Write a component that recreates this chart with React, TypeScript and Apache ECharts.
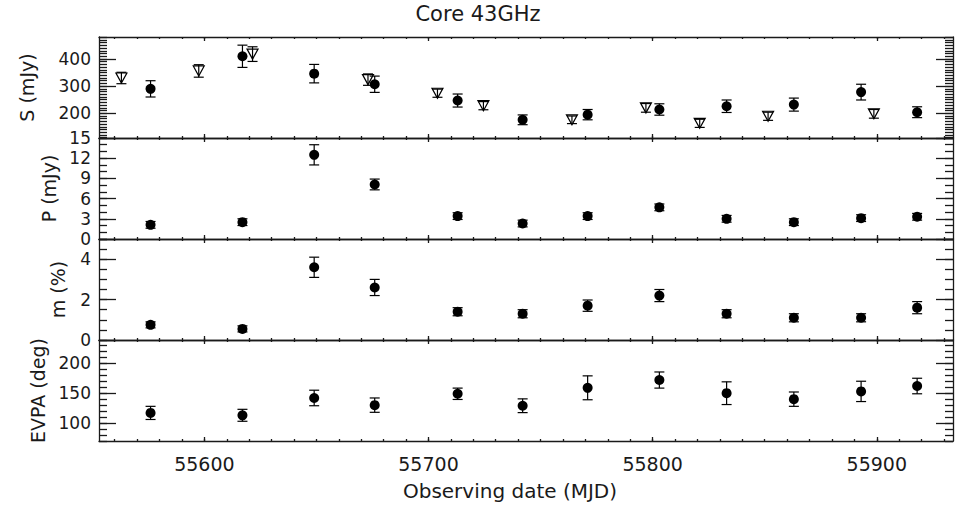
import { useEffect, useRef } from 'react';
import * as echarts from 'echarts';

// ---- data ----
const POL_MJD = [55576, 55617, 55649, 55676, 55713, 55742, 55771, 55803, 55833, 55863, 55893, 55918];
const POL_S = [290, 410, 346, 307, 247, 176, 195, 214, 226, 232, 278, 204];
const POL_S_ERR = [30, 41, 34, 30, 24, 18, 19, 21, 23, 24, 29, 20];
const TOT_MJD = [55563, 55597.5, 55621.5, 55673, 55704, 55724.5, 55764, 55797, 55821, 55851.5, 55898.7];
const TOT_S = [330, 356, 418, 324, 274, 228, 176, 220, 163, 189, 198];
const TOT_S_ERR = [21, 23, 27, 21, 15, 15, 14, 16, 15, 15, 16];
const POL_P = [2.1, 2.5, 12.5, 8.1, 3.4, 2.3, 3.4, 4.7, 3.0, 2.5, 3.1, 3.3];
const POL_P_ERR = [0.5, 0.5, 1.5, 0.8, 0.5, 0.5, 0.5, 0.5, 0.5, 0.5, 0.5, 0.5];
const POL_M = [0.75, 0.55, 3.6, 2.6, 1.4, 1.3, 1.7, 2.2, 1.3, 1.1, 1.1, 1.6];
const POL_M_ERR = [0.15, 0.15, 0.5, 0.4, 0.2, 0.2, 0.28, 0.3, 0.2, 0.2, 0.2, 0.3];
const POL_EVPA = [117, 113, 142, 130, 149, 129, 159, 172, 150, 140, 153, 162];
const POL_EVPA_ERR = [11, 10, 13, 12, 9.5, 11.5, 20, 13.5, 19, 12, 17, 13];

// ---- tick labels ----
const X_TICKS = [55600, 55700, 55800, 55900];
const S_TICKS = [200, 300, 400];
const P_TICKS = [0, 3, 6, 9, 12, 15];
const M_TICKS = [0, 2, 4];
const EVPA_TICKS = [100, 150, 200];

const TITLE = 'Core 43GHz';
const X_NAME = 'Observing date (MJD)';
const Y_NAMES = ['S (mJy)', 'P (mJy)', 'm (%)', 'EVPA (deg)'];

const FONT = 'DejaVu Sans';
const INK = '#1a1a1a';

function minorTicks(min: number, max: number, step: number): number[] {
  const out: number[] = [];
  const start = Math.ceil(min / step - 1e-9);
  const end = Math.floor(max / step + 1e-9);
  for (let i = start; i <= end; i++) out.push(Math.round(i * step * 1000) / 1000);
  return out;
}

const X_MIN = 55553;
const X_MAX = 55934;

const PANELS = [
  { min: 109, max: 481, ticks: S_TICKS, step: 10, gap: 63 },
  { min: 0, max: 15, ticks: P_TICKS, step: 1, gap: 37 },
  { min: 0, max: 5, ticks: M_TICKS, step: 0.5, gap: 32 },
  { min: 70, max: 239, ticks: EVPA_TICKS, step: 10, gap: 48 },
];
const TOPS = [37, 138, 239, 340];
const PANEL_H = 101;

const errData = (xs: number[], ys: number[], es: number[]) =>
  xs.map((x, i) => [x, ys[i], ys[i] - es[i], ys[i] + es[i]]);
const ptData = (xs: number[], ys: number[]) => xs.map((x, i) => [x, ys[i]]);

const renderErr = (_params: any, api: any) => {
  const x = api.value(0);
  const lo = api.coord([x, api.value(2)]);
  const hi = api.coord([x, api.value(3)]);
  const w = 5;
  const style = { stroke: '#000', lineWidth: 1.2 };
  return {
    type: 'group',
    children: [
      { type: 'line', shape: { x1: lo[0], y1: lo[1], x2: hi[0], y2: hi[1] }, style },
      { type: 'line', shape: { x1: lo[0] - w, y1: lo[1], x2: lo[0] + w, y2: lo[1] }, style },
      { type: 'line', shape: { x1: hi[0] - w, y1: hi[1], x2: hi[0] + w, y2: hi[1] }, style },
    ],
  };
};

function buildOption() {
  const lineStyle = { color: INK, width: 1.3 };
  const grid = TOPS.map((t) => ({ left: 99, right: 20, top: t, height: PANEL_H }));
  const xMinor = minorTicks(X_MIN, X_MAX, 10);

  const xAxis: any[] = [];
  const yAxis: any[] = [];
  PANELS.forEach((p, g) => {
    const baseX = {
      type: 'value', gridIndex: g, min: X_MIN, max: X_MAX,
      splitLine: { show: false },
      axisLabel: { show: false },
      axisLine: { show: false, onZero: false, lineStyle },
    };
    const last = g === PANELS.length - 1;
    xAxis.push({
      ...baseX, position: 'bottom',
      axisLine: { show: true, onZero: false, lineStyle },
      axisTick: { show: true, inside: true, length: 4, customValues: X_TICKS, lineStyle },
      axisLabel: last
        ? { show: true, customValues: X_TICKS, interval: 0, formatter: (v: number) => String(v), fontFamily: FONT, fontSize: 19, color: INK, margin: 13 }
        : { show: false },
      name: last ? X_NAME : '',
      nameLocation: 'middle',
      nameGap: 40,
      nameTextStyle: { fontFamily: FONT, fontSize: 20, color: INK, padding: [0, 32, 0, 0] },
    });
    xAxis.push({ ...baseX, position: 'bottom', axisTick: { show: true, inside: true, length: 2, customValues: xMinor, lineStyle } });
    xAxis.push({
      ...baseX, position: 'top',
      axisLine: { show: true, onZero: false, lineStyle },
      axisTick: { show: true, inside: true, length: 4, customValues: X_TICKS, lineStyle },
    });
    xAxis.push({ ...baseX, position: 'top', axisTick: { show: true, inside: true, length: 2, customValues: xMinor, lineStyle } });

    const yMinor = minorTicks(p.min, p.max, p.step);
    const baseY = {
      type: 'value', gridIndex: g, min: p.min, max: p.max,
      splitLine: { show: false },
      axisLabel: { show: false },
      axisLine: { show: false, onZero: false, lineStyle },
    };
    // labels are split over two overlaid axes so that ECharts never hides close neighbours
    const labelStyle = (values: number[]) => ({
      show: values.length > 0, customValues: values, interval: 0,
      fontFamily: FONT, fontSize: 17, color: INK, margin: 8,
      showMinLabel: true, showMaxLabel: true, hideOverlap: false,
      padding: [3, 0, 0, 0],
      formatter: (v: number) => String(v),
    });
    const evenLabels = p.ticks.filter((_, i) => i % 2 === 0);
    const oddLabels = p.ticks.filter((_, i) => i % 2 === 1);
    yAxis.push({
      ...baseY, position: 'left',
      axisLine: { show: true, onZero: false, lineStyle },
      axisTick: { show: true, inside: true, length: 17, customValues: p.ticks, lineStyle },
      axisLabel: labelStyle(evenLabels),
      name: Y_NAMES[g],
      nameLocation: 'middle',
      nameGap: p.gap,
      nameRotate: 90,
      nameTextStyle: { fontFamily: FONT, fontSize: 19, color: INK },
    });
    yAxis.push({
      ...baseY, position: 'left',
      axisTick: { show: true, inside: true, length: 8, customValues: yMinor, lineStyle },
      axisLabel: labelStyle(oddLabels),
    });
    yAxis.push({
      ...baseY, position: 'right',
      axisLine: { show: true, onZero: false, lineStyle },
      axisTick: { show: true, inside: true, length: 17, customValues: p.ticks, lineStyle },
    });
    yAxis.push({ ...baseY, position: 'right', axisTick: { show: true, inside: true, length: 8, customValues: yMinor, lineStyle } });
  });

  const polY = [POL_S, POL_P, POL_M, POL_EVPA];
  const polE = [POL_S_ERR, POL_P_ERR, POL_M_ERR, POL_EVPA_ERR];
  const series: any[] = [];
  polY.forEach((ys, g) => {
    series.push({
      type: 'custom', xAxisIndex: g * 4, yAxisIndex: g * 4,
      renderItem: renderErr,
      dimensions: ['x', 'y', 'lo', 'hi'],
      encode: { x: 0, y: 1 },
      data: errData(POL_MJD, ys, polE[g]),
      silent: true, z: 2,
    });
    series.push({
      type: 'scatter', xAxisIndex: g * 4, yAxisIndex: g * 4,
      symbol: 'circle', symbolSize: 10,
      itemStyle: { color: '#000', opacity: 1 },
      data: ptData(POL_MJD, ys),
      silent: true, z: 3,
    });
  });
  series.push({
    type: 'custom', xAxisIndex: 0, yAxisIndex: 0,
    renderItem: renderErr,
    dimensions: ['x', 'y', 'lo', 'hi'],
    encode: { x: 0, y: 1 },
    data: errData(TOT_MJD, TOT_S, TOT_S_ERR),
    silent: true, z: 2,
  });
  series.push({
    type: 'scatter', xAxisIndex: 0, yAxisIndex: 0,
    symbol: 'path://M0,0L10,0L5,9Z', symbolSize: [11, 10],
    itemStyle: { color: 'rgba(255,255,255,0)', borderColor: '#000', borderWidth: 1.2, opacity: 1 },
    data: ptData(TOT_MJD, TOT_S),
    silent: true, z: 3,
  });

  return {
    animation: false,
    backgroundColor: '#fff',
    grid,
    xAxis,
    yAxis,
    series,
    graphic: [
      {
        type: 'text', x: 478, y: 14,
        style: { text: TITLE, fontFamily: FONT, fontSize: 21, fill: INK, textAlign: 'center', textVerticalAlign: 'middle' },
      },
    ],
  };
}

export default function App() {
  const ref = useRef<HTMLDivElement>(null);
  useEffect(() => {
    if (!ref.current) return;
    const chart = echarts.init(ref.current, null, { renderer: 'svg' });
    chart.setOption(buildOption() as any);
    return () => chart.dispose();
  }, []);
  return (
    <div
      ref={ref}
      style={{ position: 'fixed', left: 0, top: 0, width: 973, height: 510, background: '#fff' }}
    />
  );
}
